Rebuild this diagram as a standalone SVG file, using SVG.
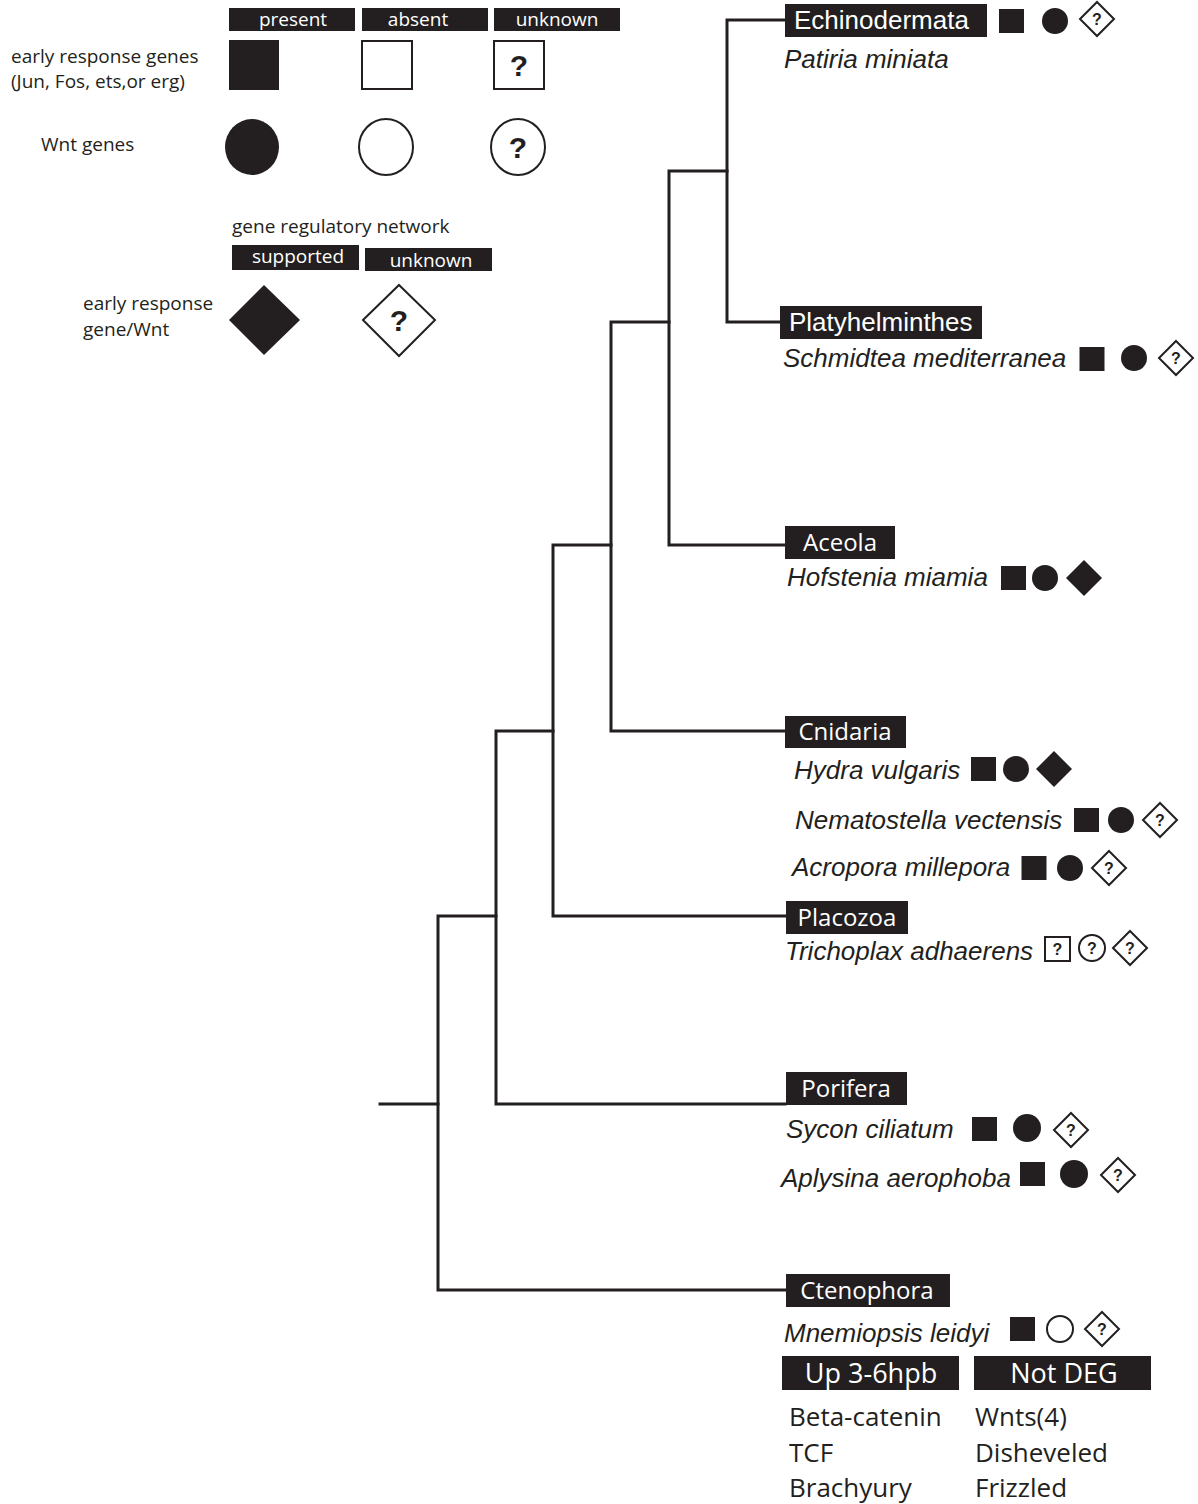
<svg xmlns="http://www.w3.org/2000/svg" width="1198" height="1504" viewBox="0 0 1198 1504">
<defs>
<style>
.bg{fill:#fff}
.lbl{fill:#231f20}
.wt{fill:#fff;font-family:"Open Sans","Liberation Sans",sans-serif}
.wa{fill:#fff;font-family:"Liberation Sans",Arial,sans-serif;font-size:26px}
.sp{fill:#231f20;font-family:"Liberation Sans",Arial,sans-serif;font-style:italic;font-size:26px}
.tx{fill:#231f20;font-family:"Open Sans","Liberation Sans",sans-serif}
.fill{fill:#231f20}
.open{fill:#fff;stroke:#231f20;stroke-width:2}
.q{fill:#231f20;font-family:"Liberation Sans",Arial,sans-serif;font-weight:bold;text-anchor:middle}
.br{fill:none;stroke:#231f20;stroke-width:3;stroke-linejoin:miter;stroke-linecap:square}
</style>
<g id="sq"><rect x="-12.5" y="-12" width="25" height="24" class="fill"/></g>
<g id="ci"><circle r="13" class="fill"/></g>
<g id="ci14"><circle r="14" class="fill"/></g>
<g id="di"><polygon points="0,-18 18,0 0,18 -18,0" class="fill"/></g>
<g id="qd"><polygon points="0,-17 17,0 0,17 -17,0" class="open"/><text y="6" class="q" font-size="16">?</text></g>
</defs>
<rect width="1198" height="1504" class="bg"/>

<g id="legend">
<rect x="229" y="8" width="126" height="23" class="lbl"/>
<text x="293" y="26" class="wt" font-size="19" text-anchor="middle">present</text>
<rect x="362" y="8" width="126" height="23" class="lbl"/>
<text x="418" y="26" class="wt" font-size="19" text-anchor="middle">absent</text>
<rect x="494" y="8" width="126" height="23" class="lbl"/>
<text x="557" y="26" class="wt" font-size="19" text-anchor="middle">unknown</text>
<text x="11" y="63" class="tx" font-size="19">early response genes</text>
<text x="11" y="88" class="tx" font-size="19">(Jun, Fos, ets,or erg)</text>
<rect x="229" y="40" width="50" height="50" class="fill"/>
<rect x="362" y="41" width="50" height="48" class="open"/>
<rect x="494" y="41" width="50" height="48" class="open"/>
<text x="519" y="76" class="q" font-size="30">?</text>
<text x="41" y="151" class="tx" font-size="19">Wnt genes</text>
<ellipse cx="252" cy="147" rx="27" ry="28" class="fill"/>
<ellipse cx="386" cy="147" rx="27" ry="28" class="open"/>
<ellipse cx="518" cy="147" rx="27" ry="28" class="open"/>
<text x="518" y="158" class="q" font-size="30">?</text>
<text x="232" y="233" class="tx" font-size="19">gene regulatory network</text>
<rect x="232" y="245" width="127" height="25" class="lbl"/>
<text x="298" y="263" class="wt" font-size="19" text-anchor="middle">supported</text>
<rect x="365" y="248" width="127" height="23" class="lbl"/>
<text x="431" y="267" class="wt" font-size="19" text-anchor="middle">unknown</text>
<text x="83" y="310" class="tx" font-size="19">early response</text>
<text x="83" y="336" class="tx" font-size="19">gene/Wnt</text>
<polygon points="264,285 300,320 264,355 229,320" class="fill"/>
<polygon points="399,285 435,320 399,356 363,320" class="open"/>
<text x="399" y="331" class="q" font-size="30">?</text>
</g>

<g id="connectors">
<polyline class="br" points="380,1104 438,1104"/>
<polyline class="br" points="496,916 438,916 438,1290 785,1290"/>
<polyline class="br" points="553,731 496,731 496,1104 785,1104"/>
<polyline class="br" points="611,545 553,545 553,916 785,916"/>
<polyline class="br" points="669,322 611,322 611,731 785,731"/>
<polyline class="br" points="727,171 669,171 669,545 785,545"/>
<polyline class="br" points="785,20 727,20 727,322 780,322"/>
</g>

<g id="echinodermata">
<rect x="785" y="4" width="202" height="33" class="lbl"/>
<text x="794" y="29" class="wa">Echinodermata</text>
<use href="#sq" x="1011.5" y="21"/>
<use href="#ci" x="1055" y="21"/>
<use href="#qd" x="1097" y="19"/>
<text x="784" y="68" class="sp">Patiria miniata</text>
</g>

<g id="platyhelminthes">
<rect x="780" y="306" width="202" height="33" class="lbl"/>
<text x="789" y="331" class="wa">Platyhelminthes</text>
<text x="783" y="367" class="sp">Schmidtea mediterranea</text>
<use href="#sq" x="1092" y="359"/>
<use href="#ci" x="1134" y="358"/>
<use href="#qd" x="1176" y="358"/>
</g>

<g id="aceola">
<rect x="785" y="526" width="110" height="33" class="lbl"/>
<text x="840" y="551" class="wt" font-size="24" text-anchor="middle">Aceola</text>
<text x="787" y="586" class="sp">Hofstenia miamia</text>
<use href="#sq" x="1013.5" y="578"/>
<use href="#ci" x="1045" y="578"/>
<use href="#di" x="1084" y="578"/>
</g>

<g id="cnidaria">
<rect x="785" y="716" width="121" height="32" class="lbl"/>
<text x="845" y="740" class="wt" font-size="24" text-anchor="middle">Cnidaria</text>
<text x="794" y="779" class="sp">Hydra vulgaris</text>
<use href="#sq" x="983.5" y="769"/>
<use href="#ci" x="1016" y="769"/>
<use href="#di" x="1054" y="769"/>
<text x="795" y="829" class="sp">Nematostella vectensis</text>
<use href="#sq" x="1086.5" y="820"/>
<use href="#ci" x="1121" y="820"/>
<use href="#qd" x="1160" y="820"/>
<text x="792" y="876" class="sp">Acropora millepora</text>
<use href="#sq" x="1034" y="868"/>
<use href="#ci" x="1070" y="868"/>
<use href="#qd" x="1109" y="868"/>
</g>

<g id="placozoa">
<rect x="786" y="901" width="122" height="33" class="lbl"/>
<text x="847" y="926" class="wt" font-size="24" text-anchor="middle">Placozoa</text>
<text x="785" y="960" class="sp">Trichoplax adhaerens</text>
<rect x="1045" y="937" width="25" height="24" class="open"/>
<text x="1057.5" y="955" class="q" font-size="16">?</text>
<circle cx="1092" cy="948" r="13" class="open"/>
<text x="1092" y="954" class="q" font-size="16">?</text>
<use href="#qd" x="1130" y="948"/>
</g>

<g id="porifera">
<rect x="786" y="1072" width="121" height="33" class="lbl"/>
<text x="846" y="1097" class="wt" font-size="24" text-anchor="middle">Porifera</text>
<text x="786" y="1138" class="sp">Sycon ciliatum</text>
<use href="#sq" x="984.5" y="1129"/>
<use href="#ci14" x="1027" y="1128"/>
<use href="#qd" x="1071" y="1130"/>
<text x="781" y="1187" class="sp">Aplysina aerophoba</text>
<use href="#sq" x="1032.5" y="1174"/>
<use href="#ci14" x="1074" y="1174"/>
<use href="#qd" x="1118" y="1175"/>
</g>

<g id="ctenophora">
<rect x="786" y="1274" width="164" height="33" class="lbl"/>
<text x="867" y="1299" class="wt" font-size="24" text-anchor="middle">Ctenophora</text>
<text x="784" y="1342" class="sp">Mnemiopsis leidyi</text>
<use href="#sq" x="1022.5" y="1329"/>
<circle cx="1060" cy="1329" r="13" class="open"/>
<use href="#qd" x="1102" y="1329"/>
<rect x="782" y="1356" width="177" height="34" class="lbl"/>
<text x="871" y="1383" class="wt" font-size="27" text-anchor="middle">Up 3-6hpb</text>
<rect x="974" y="1356" width="177" height="34" class="lbl"/>
<text x="1064" y="1383" class="wt" font-size="27" text-anchor="middle">Not DEG</text>
<text x="789" y="1426" class="tx" font-size="26">Beta-catenin</text>
<text x="789" y="1462" class="tx" font-size="26">TCF</text>
<text x="789" y="1497" class="tx" font-size="26">Brachyury</text>
<text x="975" y="1426" class="tx" font-size="26">Wnts(4)</text>
<text x="975" y="1462" class="tx" font-size="26">Disheveled</text>
<text x="975" y="1497" class="tx" font-size="26">Frizzled</text>
</g>
</svg>
